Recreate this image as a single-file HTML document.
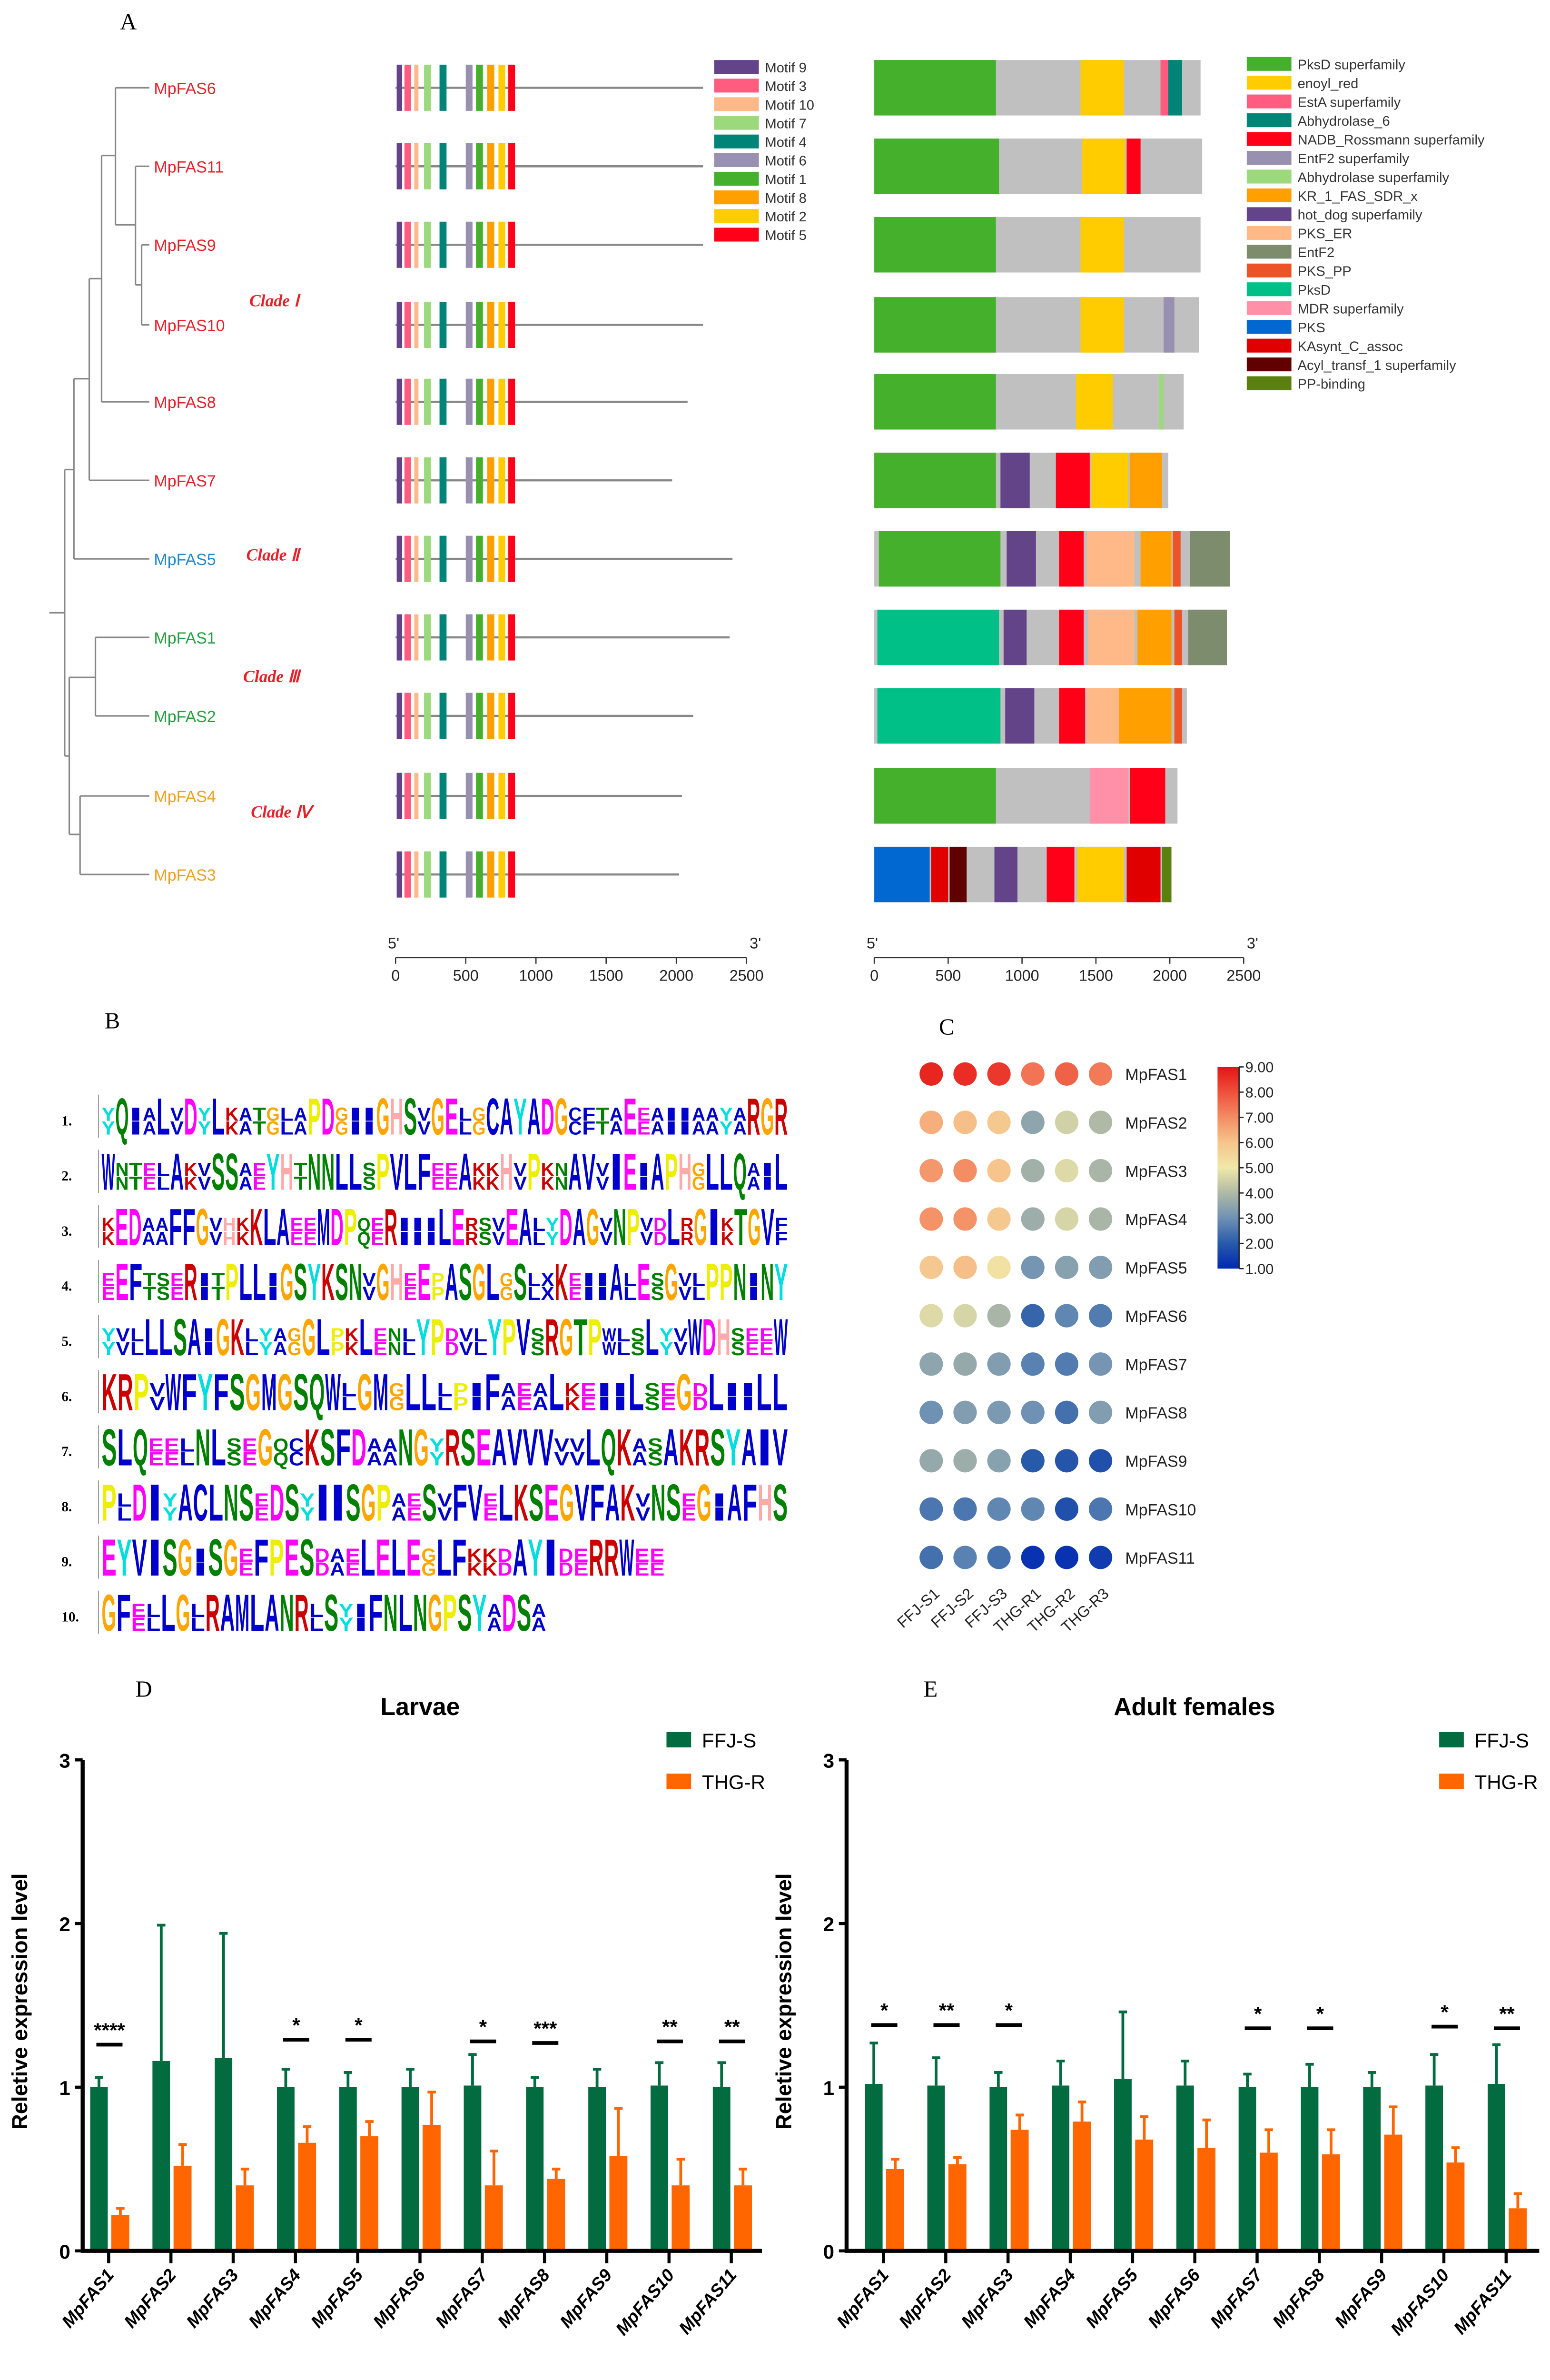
<!DOCTYPE html>
<html><head><meta charset="utf-8"><style>
html,body{margin:0;padding:0;background:#fff;width:3257px;height:5078px;overflow:hidden;}
svg{display:block;font-family:"Liberation Sans",sans-serif;overflow:hidden;}
</style></head><body>
<svg id="fig" xmlns="http://www.w3.org/2000/svg" width="3257" height="5078" viewBox="0 0 1007 1570" preserveAspectRatio="none">
<rect width="1007" height="1570" fill="#fff"/>
<g font-family="Liberation Serif,serif" font-size="15">
<text x="78" y="19">A</text>
<text x="68" y="668">B</text>
<text x="610" y="672">C</text>
<text x="88" y="1102">D</text>
<text x="600" y="1102">E</text>
</g>
<path fill="none" stroke="#888" stroke-width="1" d="M32 398 H42 M42 305 V491 M42 305 H48 M48 246 V363 M48 363 H97 M48 246 H58 M58 181 V312 M58 312 H97 M58 181 H66 M66 101 V261 M66 261 H97 M66 101 H75 M75 57 V146 M75 57 H97 M75 146 H88 M88 108 V185 M88 108 H97 M88 185 H92 M92 159 V211 M92 159 H97 M92 211 H97 M42 491 H45 M45 440 V542 M45 440 H62 M62 414 V465 M62 414 H97 M62 465 H97 M45 542 H52 M52 517 V568 M52 517 H97 M52 568 H97"/>
<g font-family="Liberation Serif,serif" font-size="11" font-style="italic" font-weight="bold" fill="#e8202a">
<text x="162" y="199">Clade Ⅰ</text>
<text x="160" y="364">Clade Ⅱ</text>
<text x="158" y="443">Clade Ⅲ</text>
<text x="163" y="531">Clade Ⅳ</text>
</g>
<g id="panelA"></g>
<g id="panelB"></g>
<g id="panelC"></g>
<g id="panelD"></g>
<g id="panelE"></g>
</svg>
<script>
// ---------- Panel A data ----------
const genes = ["MpFAS6","MpFAS11","MpFAS9","MpFAS10","MpFAS8","MpFAS7","MpFAS5","MpFAS1","MpFAS2","MpFAS4","MpFAS3"];
const geneColors = ["#e8202a","#e8202a","#e8202a","#e8202a","#e8202a","#e8202a","#2288cc","#22a040","#22a040","#f0a020","#f0a020"];
const geneY = [57,108,159,211,261,312,363,414,465,517,568];
const proteinLengths = [2190,2190,2190,2190,2080,1970,2400,2380,2120,2040,2020];
const motifNames = ["Motif 9","Motif 3","Motif 10","Motif 7","Motif 4","Motif 6","Motif 1","Motif 8","Motif 2","Motif 5"];
const motifColors = ["#644488","#ff5c80","#ffb888","#9cd87c","#008478","#9890b0","#44b02c","#ffa000","#ffcc00","#ff0018"];
const motifStart = [8,63,133,203,313,500,573,653,733,803];
const motifEnd = [47,110,163,251,363,548,622,703,781,851];
const domainNames = ["PksD superfamily","enoyl_red","EstA superfamily","Abhydrolase_6","NADB_Rossmann superfamily","EntF2 superfamily","Abhydrolase superfamily","KR_1_FAS_SDR_x","hot_dog superfamily","PKS_ER","EntF2","PKS_PP","PksD","MDR superfamily","PKS","KAsynt_C_assoc","Acyl_transf_1 superfamily","PP-binding"];
const domainColors = ["#44b02c","#ffcc00","#ff5c80","#008478","#ff0018","#9890b0","#9cd87c","#ffa000","#644488","#ffb888","#7c8c6c","#ec5428","#00c088","#ff90a8","#0068d0","#e00000","#600000","#5c8010"];
const domainTotal = [2208,2219,2208,2198,2094,1990,2407,2386,2115,2052,2011];
const segGene = [0,0,0,0, 1,1,1, 2,2, 3,3,3, 4,4,4, 5,5,5,5,5, 6,6,6,6,6,6,6, 7,7,7,7,7,7,7, 8,8,8,8,8,8, 9,9,9, 10,10,10,10,10,10,10,10];
const segDom  = [0,1,2,3, 0,1,4, 0,1, 0,1,5, 0,1,6, 0,8,4,1,7, 0,8,4,9,7,11,10, 12,8,4,9,7,11,10, 12,8,4,9,7,11, 0,13,4, 14,15,16,8,4,1,15,17];
const segStart= [0,1396,1937,1990, 0,1406,1708, 0,1396, 0,1396,1958, 0,1365,1927, 0,854,1229,1469,1729, 31,896,1250,1438,1802,2021,2136, 21,875,1250,1448,1781,2031,2125, 21,886,1250,1438,1656,2031, 0,1458,1729, 0,385,510,813,1167,1375,1708,1948];
const segEnd  = [823,1688,1990,2083, 844,1698,1802, 823,1688, 823,1688,2031, 823,1615,1958, 823,1052,1458,1719,1948, 854,1094,1417,1760,2011,2073,2407, 844,1031,1417,1760,2011,2083,2386, 854,1083,1427,1656,2011,2083, 823,1719,1969, 375,500,625,969,1354,1688,1937,2011];
const axisTicks = [0,500,1000,1500,2000,2500];

const NS="http://www.w3.org/2000/svg";
function mk(tag, attrs, parent){const e=document.createElementNS(NS,tag);for(const k in attrs)e.setAttribute(k,attrs[k]);parent.appendChild(e);return e;}
const A=document.getElementById('panelA');
const mx = v => 257 + v*0.0912;
const dx = v => 568 + v*0.096;
genes.forEach((g,i)=>{
  const y=geneY[i];
  const t=mk('text',{x:100,y:y+4,'font-size':10.5,fill:geneColors[i]},A); t.textContent=g;
  
  
  const ln=mk('line',{x1:mx(0),x2:mx(proteinLengths[i]),y1:y,y2:y,stroke:'#888','stroke-width':1.4},A);
  
  
  motifStart.forEach((s,j)=>{
    const r=mk('rect',{x:mx(s),y:y-15,width:mx(motifEnd[j])-mx(s),height:30,fill:motifColors[j]},A);
    
    
  });
  const bg=mk('rect',{x:dx(0),y:y-18,width:dx(domainTotal[i])-dx(0),height:36,fill:'#c0c0c0'},A);
  
  
});
segGene.forEach((gi,k)=>{
  const y=geneY[gi];
  const r=mk('rect',{x:dx(segStart[k]),y:y-18,width:dx(segEnd[k])-dx(segStart[k]),height:36,fill:domainColors[segDom[k]]},A);
  
  
});
motifNames.forEach((m,j)=>{
  const r=mk('rect',{x:464,y:39+j*12.1,width:29,height:9,fill:motifColors[j]},A);
  
  
  const t=mk('text',{x:497,y:47+j*12.1,'font-size':9,fill:'#333'},A); t.textContent=m;
  
  
});
domainNames.forEach((m,j)=>{
  const r=mk('rect',{x:810,y:37+j*12.2,width:29,height:9,fill:domainColors[j]},A);
  
  
  const t=mk('text',{x:843,y:45+j*12.2,'font-size':9,fill:'#333'},A); t.textContent=m;
  
  
});
[[mx,'motif'],[dx,'domain']].forEach(([f,nm])=>{
  const ax=mk('line',{x1:f(0),x2:f(2500),y1:622,y2:622,stroke:'#333','stroke-width':0.8},A);
  
  
  axisTicks.forEach(v=>{
    mk('line',{x1:f(v),x2:f(v),y1:622,y2:626,stroke:'#333','stroke-width':0.8},A);
    const t=mk('text',{x:f(v),y:637,'font-size':10,'text-anchor':'middle',fill:'#222'},A); t.textContent=v;
    
    
  });
  const a=mk('text',{x:f(0)-5,y:616,'font-size':10,fill:'#222'},A); a.textContent="5'";
  
  
  const b=mk('text',{x:f(2500)+2,y:616,'font-size':10,fill:'#222'},A); b.textContent="3'";
  
  
});

// ---------- Panel B: motif logos ----------
const logoSeqs = [
 "yQiaLvDyLkatglaPDgiiGHSvGElgCAYADGcftaEeaiiaayaRGR",
 "WntelAkvSSaeYHtNNLLsPVLFeeAkkHvPknAVvIEiAPHgLLQaiL",
 "kEDaaFFGvhkKLAeeMDPqeRiiiLErsvEAlyDAGvNPvdLrGIkTGVf",
 "eEFtseRitPLLiGSYKSNvGHeEpASGLgSlxKeiiAlEsGvlPPNiNY",
 "yvlLLSAiGKlyagGLpkLenlYPdvlYPVsRGTPwlsLyvWDHseeW",
 "KRPvWFYFSGMGSQWlGMgLLlpiFaeaLkeiiLseGdLiiLL",
 "SLQeelNLseGqcKSFDaaNGyRSEAVVVvvLQKasAKRSYAIV",
 "PlDIyACLNSeDSyIISGPaeSvFVeLKSEGVFAKvNSeGiAFHS",
 "EYVISGiSGeFPESdaeLELEgLFkkdAYIdeRRWee",
 "GFelLGlRAMLANRlSyiFNLNGPSYaDSa"];
const logoEndX = [512,512,512,512,512,512,512,512,432,355];
const aaColor = {A:'#0000cc',C:'#0000cc',F:'#0000cc',I:'#0000cc',L:'#0000cc',V:'#0000cc',W:'#0000cc',M:'#0000cc',N:'#008000',Q:'#008000',S:'#008000',T:'#008000',D:'#ff00ff',E:'#ff00ff',K:'#cc0000',R:'#cc0000',H:'#ffaaaa',G:'#ffa500',P:'#eeee00',Y:'#00dddd',X:'#0000cc'};
const B=document.getElementById('panelB');
logoSeqs.forEach((s,i)=>{
  const base=737+i*35.8;
  const lab=mk('text',{x:40,y:base-6,'font-size':9,'font-weight':'bold','font-family':'Liberation Serif,serif'},B); lab.textContent=(i+1)+'.';
  
  
  mk('line',{x1:64,x2:64,y1:base-26,y2:base+2,stroke:'#999','stroke-width':0.6},B);
  const step=(logoEndX[i]-66)/s.length;
  for(let k=0;k<s.length;k++){
    const ch=s[k], up=ch.toUpperCase(), tall=(ch===up);
    const h=tall?25:9;
    const g=mk('g',{transform:`translate(${66+k*step},${base}) scale(${step/8.2},${h/14})`},B);
    const t=mk('text',{x:0,y:0,'font-size':19,'font-weight':'bold',fill:aaColor[up]||'#0000cc',textLength:8,lengthAdjust:'spacingAndGlyphs'},g);
    t.textContent=up;
    
    
    if(!tall){
      const t2=mk('text',{x:0,y:-14,'font-size':19,'font-weight':'bold',fill:aaColor[up]||'#0000cc',textLength:8,lengthAdjust:'spacingAndGlyphs'},g);
      t2.textContent=up;
      
      
    }
  }
});

// ---------- Panel C: heatmap ----------
const hmGenes = ["MpFAS1","MpFAS2","MpFAS3","MpFAS4","MpFAS5","MpFAS6","MpFAS7","MpFAS8","MpFAS9","MpFAS10","MpFAS11"];
const hmSamples = ["FFJ-S1","FFJ-S2","FFJ-S3","THG-R1","THG-R2","THG-R3"];
const hmRow1 = [8.7,8.6,8.4,7.4,7.7,7.3];
const hmRow2 = [6.4,6.1,5.9,3.5,4.5,4.0];
const hmRow3 = [6.8,7.0,6.0,3.8,4.7,3.9];
const hmRow4 = [6.9,6.9,5.9,3.7,4.6,3.9];
const hmRow5 = [5.9,6.1,5.2,3.1,3.4,3.3];
const hmRow6 = [4.7,4.6,3.9,2.2,2.8,2.6];
const hmRow7 = [3.5,3.6,3.3,2.7,2.6,3.1];
const hmRow8 = [3.0,3.3,3.2,3.0,2.4,3.3];
const hmRow9 = [3.6,3.7,3.4,2.0,1.9,1.8];
const hmRow10 = [2.5,2.5,2.8,2.8,1.8,2.5];
const hmRow11 = [2.4,2.7,2.4,1.2,1.2,1.4];
const hmValues = [hmRow1,hmRow2,hmRow3,hmRow4,hmRow5,hmRow6,hmRow7,hmRow8,hmRow9,hmRow10,hmRow11];
const hmTicks = ["9.00","8.00","7.00","6.00","5.00","4.00","3.00","2.00","1.00"];
const stops=[[1,[0,40,180]],[2,[40,90,170]],[3,[110,145,180]],[4,[175,185,165]],[5,[240,232,168]],[6,[246,196,140]],[7,[244,140,100]],[8,[238,80,60]],[9,[230,20,20]]];
function cmap(v){v=Math.max(1,Math.min(9,v));for(let i=0;i<stops.length-1;i++){const[a,ca]=stops[i],[b,cb]=stops[i+1];if(v<=b){const t=(v-a)/(b-a);return 'rgb('+ca.map((c,j)=>Math.round(c+(cb[j]-c)*t)).join(',')+')';}}return 'rgb(230,20,20)';}
const C=document.getElementById('panelC');
const hx = j => 605 + j*22;
const hy = i => 697.6 + i*31.4;
hmValues.forEach((row,i)=>{
  row.forEach((v,j)=>{
    const c=mk('circle',{cx:hx(j),cy:hy(i),r:7.6,fill:cmap(v)},C);
    
    
  });
  const t=mk('text',{x:731,y:hy(i)+4,'font-size':10.5,fill:'#222'},C); t.textContent=hmGenes[i];
  
  
});
hmSamples.forEach((s,j)=>{
  const t=mk('text',{x:hx(j)+6,y:1036,'font-size':10,'text-anchor':'end',fill:'#222',transform:`rotate(-42 ${hx(j)+6} 1036)`},C); t.textContent=s;
  
  
});
const defs=mk('defs',{},C);
const lg=mk('linearGradient',{id:'cbar',x1:0,y1:1,x2:0,y2:0},defs);
stops.forEach(([v,c])=>mk('stop',{offset:((v-1)/8),'stop-color':'rgb('+c.join(',')+')'},lg));
const cb=mk('rect',{x:791,y:693,width:14,height:131,fill:'url(#cbar)'},C);


mk('line',{x1:805,x2:805,y1:693,y2:824,stroke:'#222','stroke-width':0.8},C);
hmTicks.forEach((tk,k)=>{
  const y=693+k*131/8;
  mk('line',{x1:805,x2:808,y1:y,y2:y,stroke:'#222','stroke-width':0.8},C);
  const t=mk('text',{x:809,y:y+3.5,'font-size':9.5,fill:'#222'},C); t.textContent=tk;
  
  
});

// ---------- Panels D & E: bar charts ----------
const barGenes = ["MpFAS1","MpFAS2","MpFAS3","MpFAS4","MpFAS5","MpFAS6","MpFAS7","MpFAS8","MpFAS9","MpFAS10","MpFAS11"];
const yTicks = [0,1,2,3];
const larvaeS = [1.0,1.16,1.18,1.0,1.0,1.0,1.01,1.0,1.0,1.01,1.0];
const larvaeSErr = [1.06,1.99,1.94,1.11,1.09,1.11,1.2,1.06,1.11,1.15,1.15];
const larvaeR = [0.22,0.52,0.40,0.66,0.70,0.77,0.40,0.44,0.58,0.40,0.40];
const larvaeRErr = [0.26,0.65,0.50,0.76,0.79,0.97,0.61,0.50,0.87,0.56,0.50];
const larvaeSig = ["****","","","*","*","","*","***","","**","**"];
const larvaeSigY = [1.26,0,0,1.29,1.29,0,1.28,1.27,0,1.28,1.28];
const adultS = [1.02,1.01,1.0,1.01,1.05,1.01,1.0,1.0,1.0,1.01,1.02];
const adultSErr = [1.27,1.18,1.09,1.16,1.46,1.16,1.08,1.14,1.09,1.20,1.26];
const adultR = [0.50,0.53,0.74,0.79,0.68,0.63,0.60,0.59,0.71,0.54,0.26];
const adultRErr = [0.56,0.57,0.83,0.91,0.82,0.80,0.74,0.74,0.88,0.63,0.35];
const adultSig = ["*","**","*","","","","*","*","","*","**"];
const adultSigY = [1.38,1.38,1.38,0,0,0,1.36,1.36,0,1.37,1.36];

function chart(G, axX, first, endX, title, titleX, legX, S, SE, R, RE, sig, sigY){
  const y0=1462, unit=106.3;
  const yv = v => y0 - v*unit;
  const cx = i => first + i*40.45;
  const green='#036b40', orange='#ff6600';
  S.forEach((v,i)=>{
    const c=cx(i);
    const e1=mk('path',{d:`M${c-6.3} ${yv(v)} V${yv(SE[i])} M${c-9} ${yv(SE[i])} H${c-3.6}`,stroke:green,'stroke-width':1.8,fill:'none'},G);
    
    
    const b=mk('rect',{x:c-12,y:yv(v),width:11.4,height:yv(0)-yv(v),fill:green},G);
    
    
    const r=R[i];
    const e2=mk('path',{d:`M${c+7.6} ${yv(r)} V${yv(RE[i])} M${c+4.9} ${yv(RE[i])} H${c+10.3}`,stroke:orange,'stroke-width':1.8,fill:'none'},G);
    
    
    const b2=mk('rect',{x:c+1.7,y:yv(r),width:11.7,height:yv(0)-yv(r),fill:orange},G);
    
    
    if(sig[i]){
      const sl=mk('line',{x1:c-8,x2:c+9,y1:yv(sigY[i]),y2:yv(sigY[i]),stroke:'#000','stroke-width':2.4},G);
      
      
      const st=mk('text',{x:c+0.5,y:yv(sigY[i])-5,'font-size':13,'font-weight':'bold','text-anchor':'middle'},G); st.textContent=sig[i];
      
      
    }
    mk('line',{x1:c,x2:c,y1:y0,y2:y0+8,stroke:'#000','stroke-width':2},G);
    const lt=mk('text',{x:c+4,y:y0+16,'font-size':11.5,'font-weight':'bold','font-style':'italic','text-anchor':'end',transform:`rotate(-50 ${c+4} ${y0+16})`},G); lt.textContent=barGenes[i];
    
    
  });
  const ax=mk('path',{d:`M${axX} ${yv(3)} V${y0} H${endX}`,stroke:'#000','stroke-width':2.6,fill:'none'},G);
  
  
  yTicks.forEach(v=>{
    mk('line',{x1:axX-5,x2:axX,y1:yv(v),y2:yv(v),stroke:'#000','stroke-width':2},G);
    const t=mk('text',{x:axX-8,y:yv(v)+5,'font-size':13,'font-weight':'bold','text-anchor':'end'},G); t.textContent=v;
    
    
  });
  const tt=mk('text',{x:titleX,y:1114,'font-size':16,'font-weight':'bold','text-anchor':'middle'},G); tt.textContent=title;
  
  
  const yt=mk('text',{x:axX-36,y:1300,'font-size':14,'font-weight':'bold','text-anchor':'middle',transform:`rotate(-90 ${axX-36} 1300)`},G); yt.textContent='Reletive expression level';
  
  
  const xt=mk('text',{x:titleX,y:1557,'font-size':14.5,'font-weight':'bold','text-anchor':'middle'},G); xt.textContent='Fatty acid synthase genes';
  
  
  const l1=mk('rect',{x:legX,y:1125,width:16,height:10,fill:green},G);
  
  
  const l1t=mk('text',{x:legX+23,y:1135,'font-size':13},G); l1t.textContent='FFJ-S';
  
  
  const l2=mk('rect',{x:legX,y:1152,width:16,height:10,fill:orange},G);
  
  
  const l2t=mk('text',{x:legX+23,y:1162,'font-size':13},G); l2t.textContent='THG-R';
  
  
}
chart(document.getElementById('panelD'),53.7,70.6,495,'Larvae',273,433,larvaeS,larvaeSErr,larvaeR,larvaeRErr,larvaeSig,larvaeSigY);
chart(document.getElementById('panelE'),550,574,1000,'Adult females',776,935,adultS,adultSErr,adultR,adultRErr,adultSig,adultSigY);
</script>
</body></html>
